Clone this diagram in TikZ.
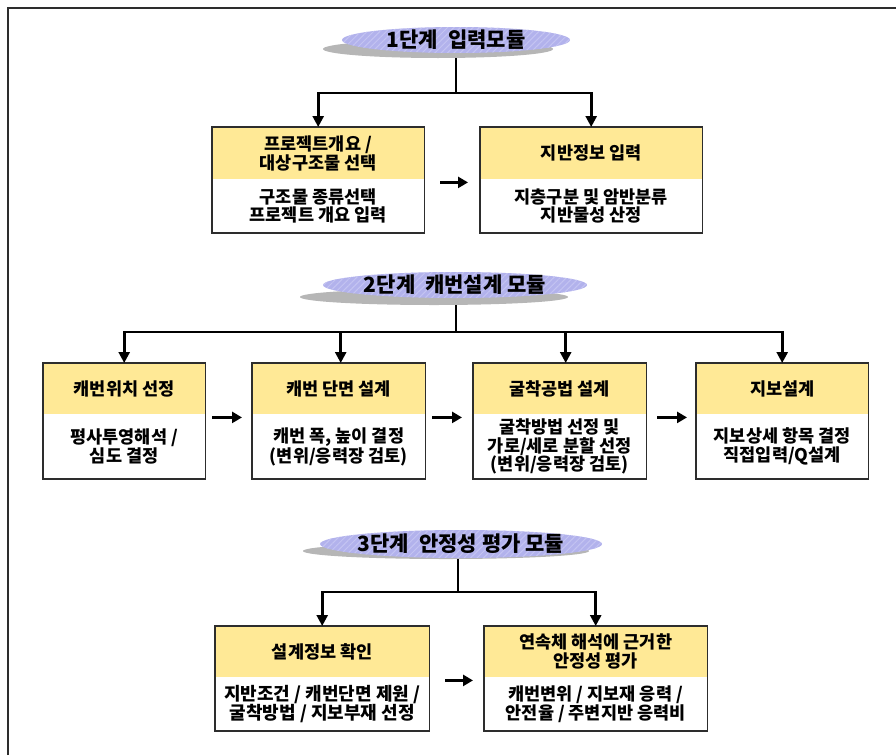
\documentclass[tikz,border=0pt]{standalone}
\usepackage{fontspec}
\setmainfont{Noto Sans CJK KR}[BoldFont={Noto Sans CJK KR Black}]
\usetikzlibrary{shapes.geometric,arrows.meta,patterns.meta}
\definecolor{hdr}{RGB}{255,233,150}
\definecolor{lav}{RGB}{178,178,236}
\definecolor{lavline}{RGB}{196,196,242}
\definecolor{shd}{RGB}{182,182,182}
\definecolor{frm}{RGB}{45,45,45}
\newcommand\mkbox[8]{%
  \node[hdrbox, minimum width=#4pt, minimum height=#5pt, anchor=north west] (#1h) at (#2,#3) {#7};
  \node[bodybox, minimum width=#4pt, minimum height=#6pt, anchor=north] (#1b) at (#1h.south) {#8};
  \draw[boxframe] (#1h.north west) rectangle (#1b.south east);}
\begin{document}
\begin{tikzpicture}[x=1pt,y=-1pt,
  hdrbox/.style={rectangle, fill=hdr, inner sep=0pt, align=center, font=\fontsize{17.5}{19}\selectfont\bfseries},
  bodybox/.style={rectangle, fill=white, inner sep=0pt, align=center, font=\fontsize{17.5}{18.5}\selectfont\bfseries},
  boxframe/.style={draw=frm, line width=1.6pt},
  stageell/.style={ellipse, inner sep=0pt, fill=lav, postaction={pattern={Lines[angle=45,distance=4.5pt,line width=1pt]}, pattern color=lavline}},
  stageshd/.style={ellipse, inner sep=0pt, fill=shd},
  stagetxt/.style={inner sep=0pt, font=\fontsize{21}{24}\selectfont\bfseries},
  conn/.style={line width=2.6pt, black},
  arr/.style={conn, -{Triangle[width=11pt,length=11pt]}},
  harr/.style={line width=3pt, black, -{Triangle[width=11pt,length=10pt]}}
]
\useasboundingbox (0,0) rectangle (896,755);
\draw[line width=2.2pt, frm] (8,755) -- (8,8) -- (896,8);

% ---------- Stage 1 ----------
\node[stageshd, minimum width=230pt, minimum height=18pt] (s1) at (438,49) {};
\node[stageell, minimum width=228pt, minimum height=26pt] (e1) at (456,40) {};
\node[stagetxt] (t1) at (e1) {1단계\hspace{10pt}입력모듈};
\mkbox{A}{212}{127}{212}{52}{53}{프로젝트개요 /\\대상구조물 선택}{구조물 종류선택\\프로젝트 개요 입력}
\mkbox{B}{480}{127}{222}{52}{53}{지반정보 입력}{지층구분 및 암반분류\\지반물성 산정}
\coordinate (j1) at (456,93);
\draw[conn] (j1 |- s1.south) -- (j1);
\draw[arr] (j1) -| (Ah.north);
\draw[arr] (j1) -| (Bh.north);
\draw[harr, shorten <=16pt, shorten >=12pt] ([yshift=-3pt]Ah.south east) -- ([yshift=-3pt]Bh.south west);

% ---------- Stage 2 ----------
\node[stageshd, minimum width=268pt, minimum height=16pt] (s2) at (434,297) {};
\node[stageell, minimum width=264pt, minimum height=26pt] (e2) at (455,285) {};
\node[stagetxt] (t2) at (e2) {2단계\hspace{10pt}캐번설계 모듈};
\mkbox{P}{43}{363}{162}{51}{64}{캐번위치 선정}{평사투영해석 /\\심도 결정}
\mkbox{Q}{252}{363}{173}{51}{64}{캐번 단면 설계}{캐번 폭, 높이 결정\\(변위/응력장 검토)}
\mkbox{R}{473}{363}{173}{51}{64}{굴착공법 설계}{굴착방법 선정 및\\가로/세로 분할 선정\\(변위/응력장 검토)}
\mkbox{S}{696}{363}{172}{51}{64}{지보설계}{지보상세 항목 결정\\직접입력/Q설계}
\coordinate (j2) at (456,332);
\draw[conn] (j2 |- s2.south) -- (j2);
\draw[arr] (j2) -| (Ph.north);
\draw[arr] (j2) -| ([xshift=2pt]Qh.north);
\draw[arr] (j2) -| ([xshift=6pt]Rh.north);
\draw[arr] (j2) -| (Sh.north);
\draw[harr, shorten <=7pt, shorten >=10pt] ([yshift=-3pt]Ph.south east) -- ([yshift=-3pt]Qh.south west);
\draw[harr, shorten <=7pt, shorten >=11pt] ([yshift=-3pt]Qh.south east) -- ([yshift=-3pt]Rh.south west);
\draw[harr, shorten <=11pt, shorten >=9pt] ([yshift=-3pt]Rh.south east) -- ([yshift=-3pt]Sh.south west);

% ---------- Stage 3 ----------
\node[stageshd, minimum width=286pt, minimum height=16pt] (s3) at (446,551) {};
\node[stageell, minimum width=282pt, minimum height=28pt] (e3) at (461,544) {};
\node[stagetxt] (t3) at (e3) {3단계\hspace{10pt}안정성 평가 모듈};
\mkbox{C}{215}{626}{214}{51}{53}{설계정보 확인}{\fontsize{18}{20}\selectfont 지반조건 / 캐번단면 제원 /\\\fontsize{18}{20}\selectfont 굴착방법 / 지보부재 선정}
\mkbox{D}{484}{626}{223}{51}{53}{\fontsize{17.5}{19}\selectfont 연속체 해석에 근거한\\\fontsize{17.5}{19}\selectfont 안정성 평가}{\fontsize{17.5}{19}\selectfont 캐번변위 / 지보재 응력 /\\\fontsize{17.5}{19}\selectfont 안전율 / 주변지반 응력비}
\coordinate (j3) at (458,592);
\draw[conn] (j3 |- s3.south) -- (j3);
\draw[arr] (j3) -| (Ch.north);
\draw[arr] (j3) -| (Dh.north);
\draw[harr, shorten <=16pt, shorten >=11pt] ([yshift=-3pt]Ch.south east) -- ([yshift=-3pt]Dh.south west);
\end{tikzpicture}
\end{document}
